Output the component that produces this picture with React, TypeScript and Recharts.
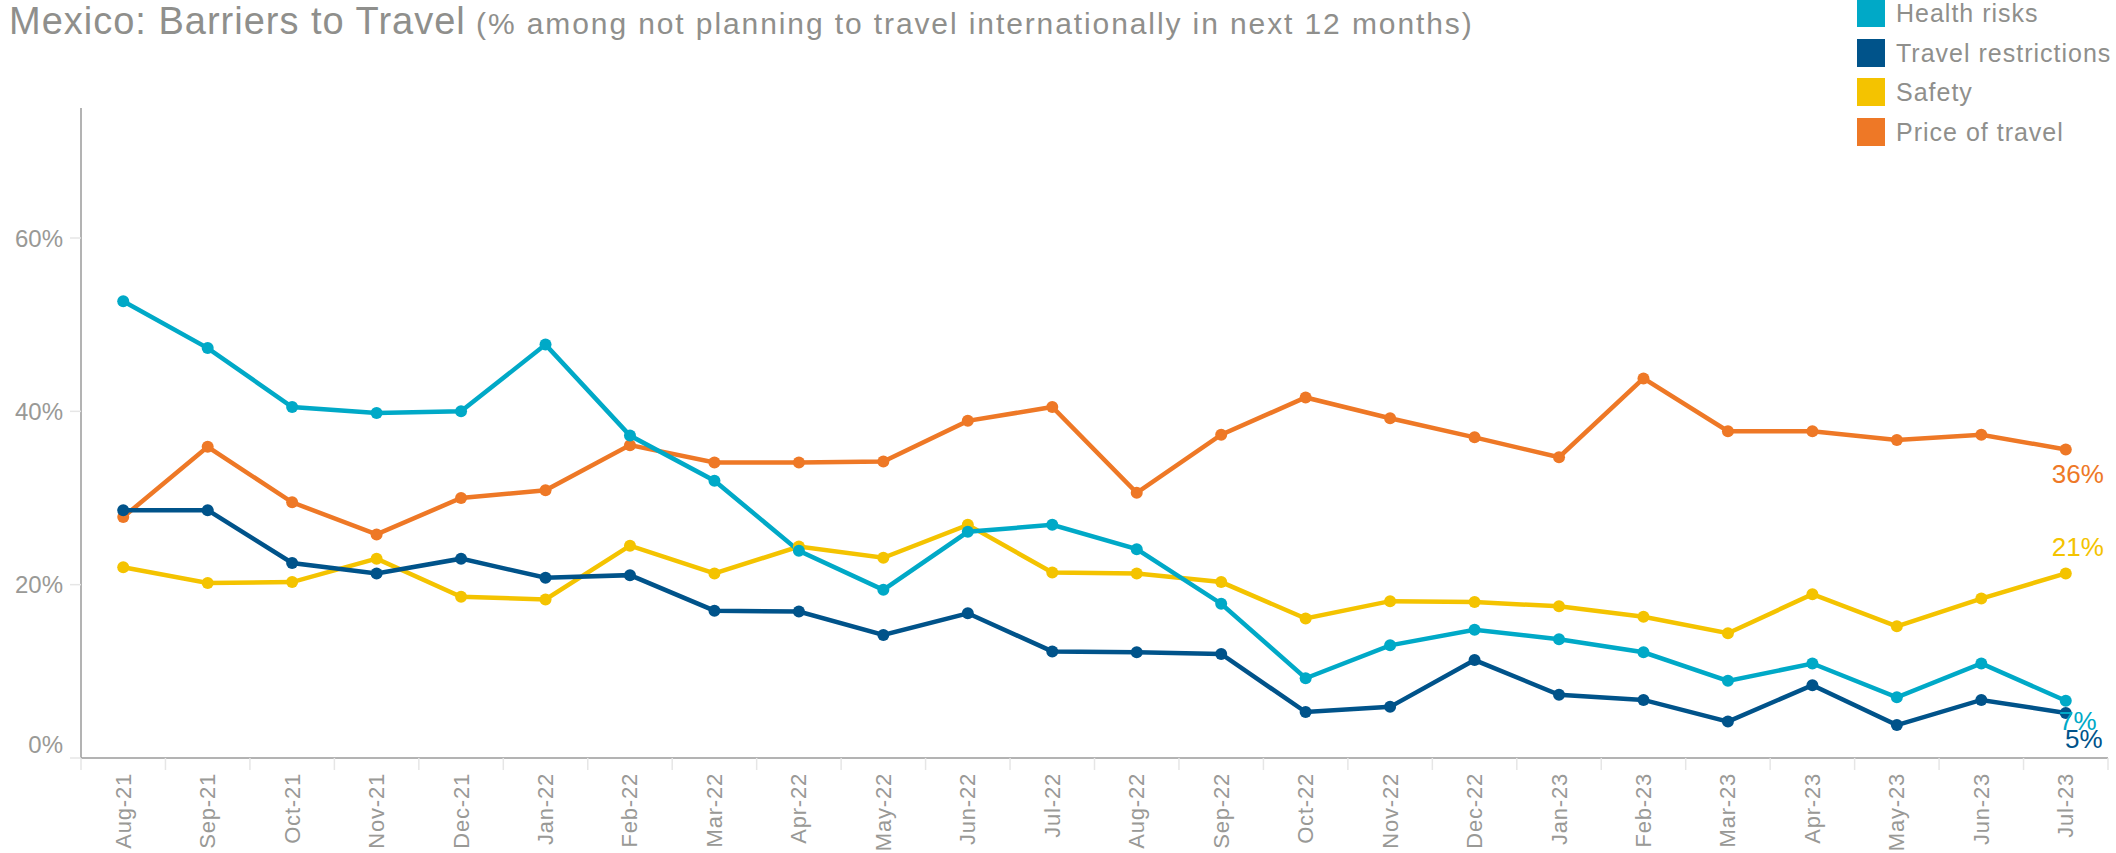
import React from 'react';
import { LineChart, Line, XAxis, YAxis, LabelList } from 'recharts';

const months = ['Aug-21','Sep-21','Oct-21','Nov-21','Dec-21','Jan-22','Feb-22','Mar-22','Apr-22','May-22','Jun-22','Jul-22','Aug-22','Sep-22','Oct-22','Nov-22','Dec-22','Jan-23','Feb-23','Mar-23','Apr-23','May-23','Jun-23','Jul-23'];
const healthRisks = [52.7,47.3,40.5,39.8,40.0,47.7,37.2,32.0,23.9,19.4,26.1,26.9,24.1,17.8,9.2,13.0,14.8,13.7,12.2,8.9,10.9,7.0,10.9,6.6];
const travelRestrictions = [28.6,28.6,22.5,21.3,23.0,20.8,21.1,17.0,16.9,14.2,16.7,12.3,12.2,12.0,5.3,5.9,11.3,7.3,6.7,4.2,8.4,3.8,6.7,5.2];
const safety = [22.0,20.2,20.3,23.0,18.6,18.3,24.5,21.3,24.4,23.1,26.9,21.4,21.3,20.3,16.1,18.1,18.0,17.5,16.3,14.4,18.9,15.2,18.4,21.3];
const priceOfTravel = [27.8,35.9,29.5,25.8,30.0,30.9,36.1,34.1,34.1,34.2,38.9,40.5,30.6,37.3,41.6,39.2,37.0,34.7,43.8,37.7,37.7,36.7,37.3,35.6];
const yTicks = [0, 20, 40, 60];

const series = [
  { key: 'health', name: 'Health risks', color: '#00A9C7', values: healthRisks, labelDx: 12, labelDy: 20 },
  { key: 'restrictions', name: 'Travel restrictions', color: '#00538A', values: travelRestrictions, labelDx: 18, labelDy: 26 },
  { key: 'safety', name: 'Safety', color: '#F4C300', values: safety, labelDx: 12, labelDy: -26 },
  { key: 'price', name: 'Price of travel', color: '#EE7826', values: priceOfTravel, labelDx: 12, labelDy: 25 },
];

const data = months.map((m, i) => {
  const row: any = { month: m };
  series.forEach((s) => { row[s.key] = s.values[i]; });
  return row;
});

const W = 2116;
const H = 853;
const MARGIN = { top: 108, right: 8, bottom: 0, left: 0 };
const Y_AXIS_W = 81;
const X_AXIS_H = 95;
const PLOT_W = W - MARGIN.left - MARGIN.right - Y_AXIS_W;
const BAND = PLOT_W / months.length;
const TEXT = '#8f8f8c';
const FONT = '"Liberation Sans", Arial, sans-serif';

const XTick = (props: any) => {
  const { x, y, payload, index } = props;
  const last = index === months.length - 1;
  return (
    <g>
      <line x1={x - BAND / 2} x2={x - BAND / 2} y1={y} y2={y + 12} stroke="#e6e6e6" strokeWidth={1.5} />
      {last && <line x1={x + BAND / 2} x2={x + BAND / 2} y1={y} y2={y + 12} stroke="#e6e6e6" strokeWidth={1.5} />}
      <text
        transform={`translate(${x},${y + 15}) rotate(-90)`}
        textAnchor="end"
        dominantBaseline="central"
        fill="#999996"
        fontSize={22}
        fontFamily={FONT}
        letterSpacing={0.8}
      >
        {payload.value}
      </text>
    </g>
  );
};

const YTick = (props: any) => {
  const { y, payload } = props;
  const dy = payload.value === 0 ? -14 : 0;
  return (
    <text x={63} y={y + dy} textAnchor="end" dominantBaseline="central" fill="#999996" fontSize={24} fontFamily={FONT}>
      {payload.value}%
    </text>
  );
};

const makeEndLabel = (s: any) => (props: any) => {
  const { x, y, index, value } = props;
  if (index !== months.length - 1) return null;
  return (
    <text x={x + s.labelDx} y={y + s.labelDy} textAnchor="middle" dominantBaseline="central" fill={s.color} fontSize={26} fontFamily={FONT}>
      {Math.round(value)}%
    </text>
  );
};

const ChartLegend = () => (
  <div style={{ position: 'absolute', left: 1857, top: 0, width: 259, height: 150, zIndex: 2 }}>
    {series.map((s, i) => (
      <div key={s.key} style={{ position: 'absolute', left: 0, top: -1 + i * 39.5, height: 28, display: 'flex', alignItems: 'center' }}>
        <div style={{ width: 28, height: 28, background: s.color }} />
        <span style={{ marginLeft: 11, color: TEXT, fontSize: 25, fontFamily: FONT, whiteSpace: 'nowrap', lineHeight: '28px', letterSpacing: 1 }}>{s.name}</span>
      </div>
    ))}
  </div>
);

const drawOrder = ['price', 'safety', 'health', 'restrictions'];

export default function App() {
  return (
    <div style={{ position: 'absolute', left: 0, top: 0, width: W, height: H, background: '#fff', overflow: 'hidden' }}>
      <div style={{ position: 'absolute', left: 9, top: 1, whiteSpace: 'nowrap', color: TEXT, fontFamily: FONT, lineHeight: '40px', zIndex: 2 }}>
        <span style={{ fontSize: 38, letterSpacing: 1 }}>Mexico: Barriers to Travel</span>
        <span style={{ fontSize: 30, letterSpacing: 1.9 }}> (% among not planning to travel internationally in next 12 months)</span>
      </div>
      <ChartLegend />
      <LineChart width={W} height={H} data={data} margin={MARGIN}>
        <XAxis
          dataKey="month"
          interval={0}
          height={X_AXIS_H}
          padding={{ left: BAND / 2, right: BAND / 2 }}
          axisLine={{ stroke: '#9a9a9a', strokeWidth: 1.5 }}
          tickLine={false}
          tickSize={0}
          tickMargin={0}
          tick={<XTick />}
        />
        <YAxis
          domain={[0, 75]}
          ticks={yTicks}
          width={Y_AXIS_W}
          axisLine={{ stroke: '#9a9a9a', strokeWidth: 1.5 }}
          tickLine={{ stroke: '#e6e6e6', strokeWidth: 1.5 }}
          tickSize={11}
          tick={<YTick />}
        />
        {drawOrder.map((k) => {
          const s = series.find((q) => q.key === k)!;
          return (
            <Line
              key={s.key}
              dataKey={s.key}
              name={s.name}
              stroke={s.color}
              strokeWidth={4.5}
              dot={{ r: 6, fill: s.color, stroke: 'none' }}
              activeDot={false}
              isAnimationActive={false}
            >
              <LabelList dataKey={s.key} content={makeEndLabel(s)} />
            </Line>
          );
        })}
      </LineChart>
    </div>
  );
}
